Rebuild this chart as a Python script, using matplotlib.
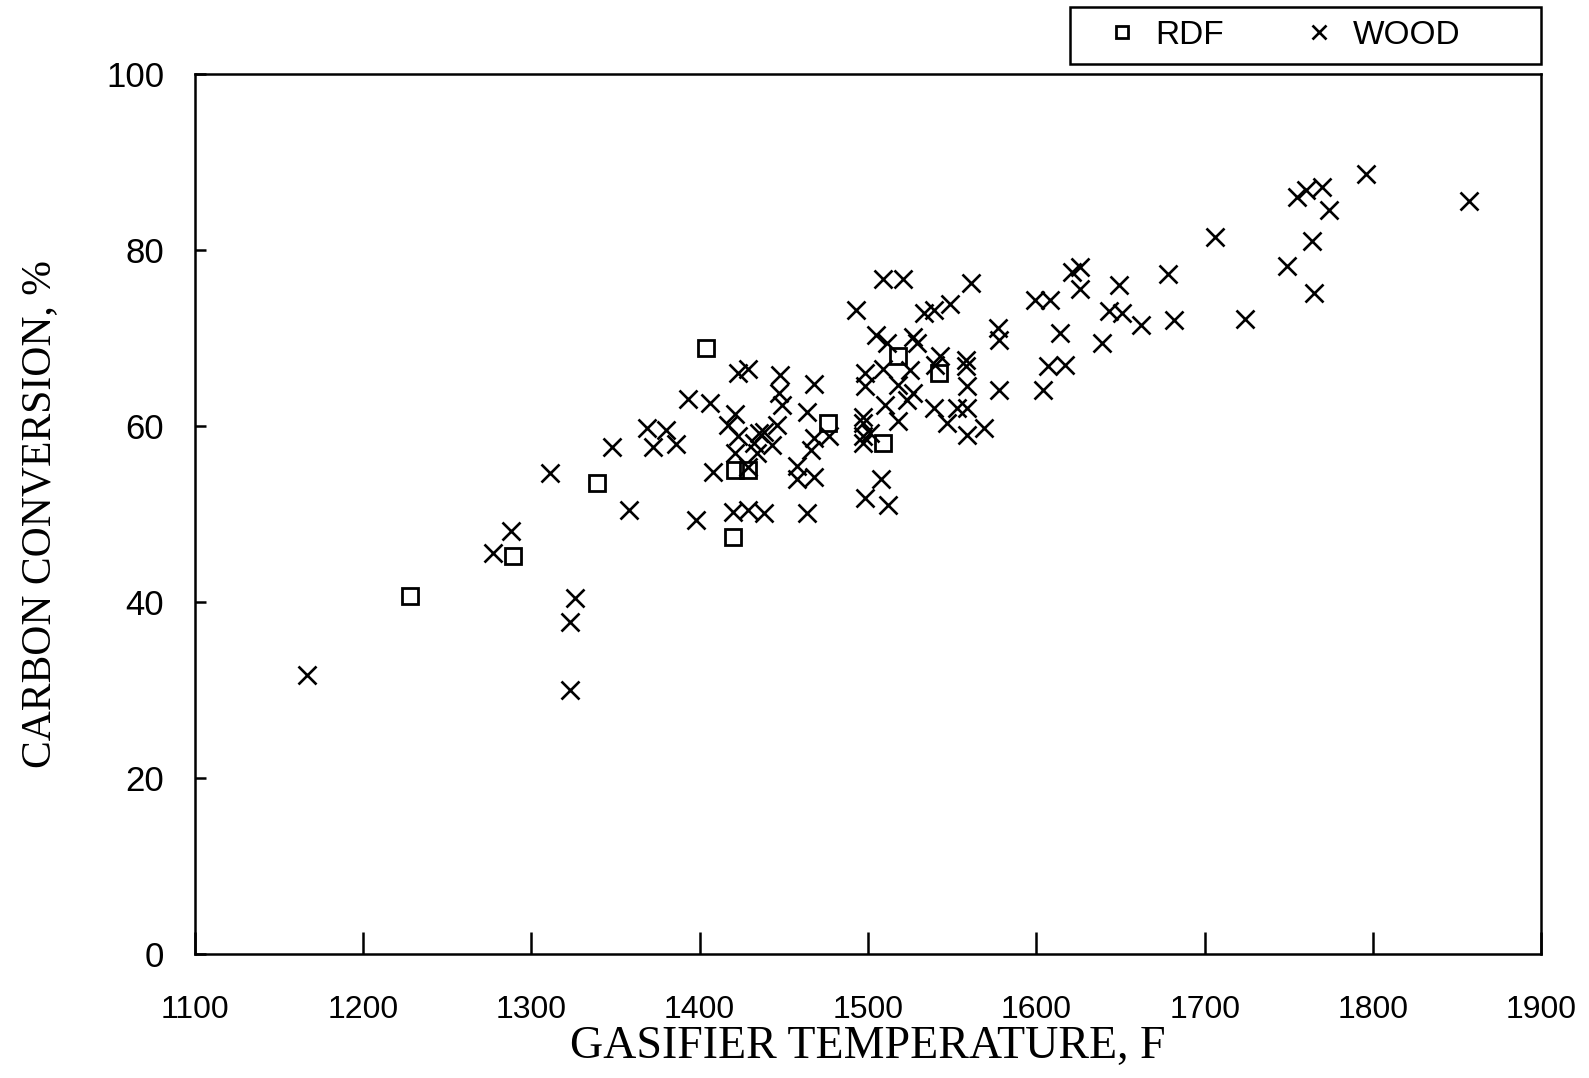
import matplotlib
matplotlib.use("Agg")
import matplotlib.pyplot as plt
from matplotlib.patches import Rectangle

# ---- data ----
rdf_temp = [1228, 1289, 1339, 1404, 1420, 1421, 1429, 1476, 1509, 1518, 1542]
rdf_conv = [40.7, 45.2, 53.5, 68.9, 47.4, 55.0, 55.0, 60.3, 58.0, 67.9, 66.0]

wood_temp = [1167, 1277, 1288, 1311, 1323, 1323, 1326, 1348, 1358, 1369,
             1372, 1380, 1386, 1393, 1398, 1406, 1408, 1417, 1420, 1421,
             1421, 1423, 1423, 1429, 1429, 1429, 1432, 1434, 1435, 1438,
             1438, 1443, 1446, 1447, 1448, 1449, 1458, 1458, 1464, 1464,
             1468, 1468, 1468, 1466, 1477, 1493, 1497, 1497, 1497, 1497,
             1498, 1498, 1498, 1501, 1505, 1508, 1509, 1509, 1510, 1511,
             1512, 1518, 1518, 1521, 1523, 1525, 1527, 1527, 1529, 1533,
             1539, 1539, 1540, 1543, 1547, 1549, 1553, 1558, 1558, 1559,
             1559, 1559, 1561, 1569, 1577, 1578, 1578, 1599, 1604, 1607,
             1608, 1614, 1617, 1621, 1626, 1626, 1639, 1643, 1649, 1651,
             1662, 1678, 1682, 1706, 1724, 1749, 1755, 1760, 1764, 1765,
             1770, 1774, 1796, 1857]
wood_conv = [31.7, 45.5, 48.0, 54.6, 37.7, 30.0, 40.4, 57.6, 50.4, 59.7,
             57.6, 59.5, 57.9, 63.1, 49.3, 62.6, 54.8, 60.1, 50.2, 61.3,
             56.9, 58.8, 66.0, 66.5, 50.4, 55.3, 58.0, 56.9, 59.2, 59.3,
             50.1, 57.8, 60.1, 63.7, 65.8, 62.4, 55.4, 54.0, 61.6, 50.1,
             64.8, 58.6, 54.2, 57.3, 58.8, 73.2, 61.0, 60.3, 58.8, 58.0,
             66.0, 64.5, 51.8, 59.2, 70.3, 54.0, 76.7, 66.5, 62.4, 69.4,
             51.0, 64.6, 60.5, 76.7, 62.9, 66.3, 70.1, 63.7, 69.4, 72.8,
             73.2, 62.0, 66.9, 67.9, 60.3, 73.9, 62.0, 67.5, 66.8, 64.5,
             62.0, 59.0, 76.2, 59.7, 71.1, 69.8, 64.1, 74.3, 64.1, 66.8,
             74.3, 70.5, 66.9, 77.5, 78.1, 75.6, 69.4, 73.0, 76.0, 72.8,
             71.5, 77.3, 72.0, 81.5, 72.1, 78.2, 86.0, 86.8, 81.0, 75.1,
             87.1, 84.5, 88.6, 85.5]

x_ticks = [1100, 1200, 1300, 1400, 1500, 1600, 1700, 1800, 1900]
y_ticks = [0, 20, 40, 60, 80, 100]

# ---- figure ----
fig = plt.figure(figsize=(15.89, 10.78), dpi=100)
ax = fig.add_axes([0.1225, 0.1154, 0.8475, 0.816])

ax.plot(rdf_temp, rdf_conv, linestyle="none", marker="s", markersize=11,
        markerfacecolor="none", markeredgecolor="black", markeredgewidth=2.0,
        label="RDF")
ax.plot(wood_temp, wood_conv, linestyle="none", marker="x", markersize=12.5,
        color="black", markeredgewidth=1.9, label="WOOD")

ax.set_xlim(1100, 1900)
ax.set_ylim(0, 100)
ax.set_xticks(x_ticks)
ax.set_yticks(y_ticks)

for s in ax.spines.values():
    s.set_linewidth(1.8)
    s.set_color("black")

ax.tick_params(axis="x", direction="in", length=16, width=1.8, pad=30,
               top=False, labelsize=23)
ax.tick_params(axis="y", direction="in", length=8, width=1.8, pad=22,
               right=False, labelsize=25)
for lab in ax.get_xticklabels() + ax.get_yticklabels():
    lab.set_family(["Liberation Sans", "DejaVu Sans"])

ax.set_xlabel("GASIFIER TEMPERATURE, F", family=["Liberation Serif", "DejaVu Serif"],
              fontsize=33, labelpad=0)
ax.set_ylabel("CARBON CONVERSION, %", family=["Liberation Serif", "DejaVu Serif"],
              fontsize=30, labelpad=34)

# legend (no frame) plus a separate rectangular frame above the axes
leg = ax.legend(loc="center left", bbox_to_anchor=(0.676, 1.0438), ncol=2,
                frameon=False,
                prop={"family": ["Liberation Sans", "DejaVu Sans"], "size": 24},
                handlelength=1.0, handletextpad=0.5, columnspacing=2.37,
                borderpad=0.0, borderaxespad=0.0, markerscale=0.8)
frame = Rectangle((0.650, 1.0114), 0.350, 0.0648, transform=ax.transAxes,
                  fill=False, edgecolor="black", linewidth=1.8, clip_on=False)
ax.add_patch(frame)

fig.savefig("out.png", dpi=100)
